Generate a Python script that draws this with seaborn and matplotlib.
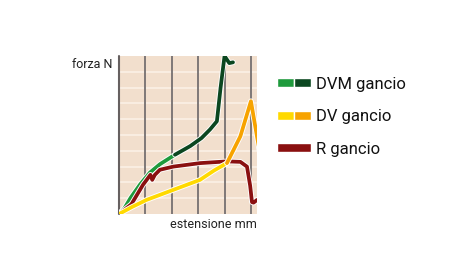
import matplotlib
matplotlib.use("Agg")
import matplotlib.pyplot as plt
import matplotlib.patheffects as pe
from matplotlib.patches import Patch
from matplotlib.legend_handler import HandlerTuple
import seaborn as sns
import pandas as pd

# ---- data (x in grid units, y in grid units) ----
dvm_light_x = [0.0, 0.2, 0.45, 0.79, 1.17, 1.55, 2.12]
dvm_light_y = [0.0, 0.35, 1.05, 1.85, 2.62, 3.15, 3.75]
dvm_dark_x = [2.12, 2.70, 3.13, 3.45, 3.71, 3.85, 4.0, 4.1, 4.18, 4.32]
dvm_dark_y = [3.75, 4.30, 4.81, 5.35, 5.87, 8.0, 10.0, 9.75, 9.55, 9.6]

dv_light_x = [0.0, 0.5, 1.04, 2.06, 3.07, 3.6, 4.09]
dv_light_y = [0.0, 0.45, 0.89, 1.53, 2.16, 2.75, 3.22]
dv_orange_x = [4.09, 4.6, 5.0, 5.23, 5.35]
dv_orange_y = [3.22, 4.92, 7.14, 4.9, 3.8]

r_x = [0.0, 0.47, 0.91, 1.19, 1.26, 1.36, 1.55, 2.06, 3.07, 4.09, 4.6, 4.85, 4.97, 5.04, 5.1, 5.23]
r_y = [0.0, 0.62, 1.85, 2.48, 2.16, 2.48, 2.80, 3.00, 3.22, 3.33, 3.30, 3.0, 1.8, 0.75, 0.72, 0.89]

legend_labels = ["DVM gancio", "DV gancio", "R gancio"]
x_label = "estensione mm"
y_label = "forza N"

# ---- styling ----
C_LGREEN = "#1e9a3c"
C_DGREEN = "#0b4720"
C_YELLOW = "#ffd900"
C_ORANGE = "#f7a300"
C_RED = "#8a1010"
BG = "#f2dfcd"
FONT = ["Roboto", "DejaVu Sans"]

sns.set_style("white")
plt.rcParams["font.family"] = FONT

fig = plt.figure(figsize=(4.5, 2.65), dpi=100)
ax = fig.add_axes([119 / 450, 1 - 214 / 265, (257 - 119) / 450, (214 - 56) / 265])
ax.set_facecolor(BG)
ax.set_xlim(0, 5.23)
ax.set_ylim(0, 10)

# grid
for yv in range(1, 10):
    ax.axhline(yv, color="#fcf2e8", lw=1.1, zorder=1)
for xv in range(1, 6):
    ax.axvline(xv, color="#757070", lw=1.3, zorder=2)
ax.axvline(0, color="#666060", lw=1.5, zorder=2, clip_on=False)

for s in ax.spines.values():
    s.set_visible(False)
ax.set_xticks([])
ax.set_yticks([])

outline = [pe.Stroke(linewidth=4.0, foreground="white"), pe.Normal()]

def draw(xs, ys, color, z):
    df = pd.DataFrame({"x": xs, "y": ys})
    sns.lineplot(data=df, x="x", y="y", sort=False, estimator=None, color=color,
                 lw=2.7, ax=ax, zorder=z, path_effects=outline,
                 solid_capstyle="round", solid_joinstyle="round")

draw(r_x, r_y, C_RED, 4)
draw(dv_light_x, dv_light_y, C_YELLOW, 6)
draw(dv_orange_x, dv_orange_y, C_ORANGE, 6)
draw(dvm_light_x, dvm_light_y, C_LGREEN, 3)
draw(dvm_dark_x, dvm_dark_y, C_DGREEN, 5)
ax.set_xlabel("")
ax.set_ylabel("")

# axis texts
fig.text(112 / 450, 1 - 65 / 265, y_label, ha="right", va="center", fontsize=9, color="#222222")
fig.text(257 / 450, 1 - 225 / 265, x_label, ha="right", va="center", fontsize=9, color="#222222")

# legend
handles = [
    (Patch(facecolor=C_LGREEN), Patch(facecolor=C_DGREEN)),
    (Patch(facecolor=C_YELLOW), Patch(facecolor=C_ORANGE)),
    Patch(facecolor=C_RED),
]
leg = fig.legend(handles, legend_labels, handler_map={tuple: HandlerTuple(ndivide=None, pad=0)},
                 loc="upper left", bbox_to_anchor=(270 / 450, 1 - 70 / 265),
                 frameon=False, fontsize=12, handlelength=2.05, handleheight=0.45,
                 handletextpad=0.3, labelspacing=1.05, borderaxespad=0)
for t in leg.get_texts():
    t.set_color("#111111")

fig.savefig("out.png", dpi=100, facecolor="white")
